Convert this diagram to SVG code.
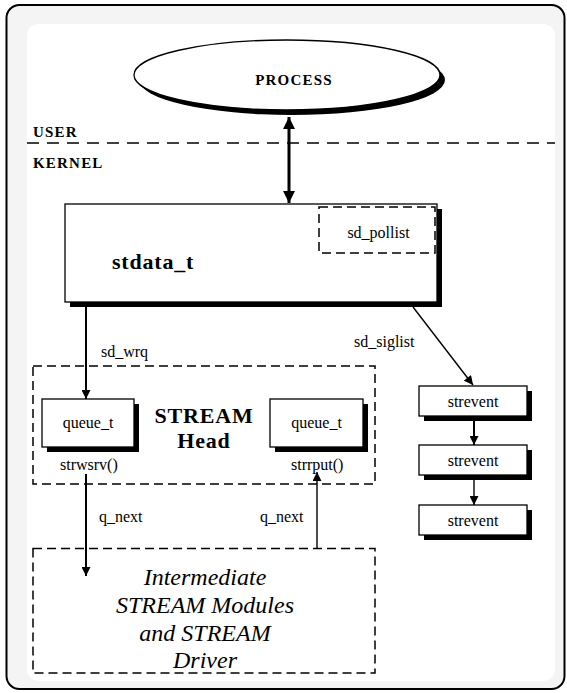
<svg xmlns="http://www.w3.org/2000/svg" width="567" height="693" viewBox="0 0 567 693">
<style>
text{font-family:"Liberation Serif","Times New Roman",serif;fill:#000}
.b{font-weight:bold}
.lbl{font-size:16px}
.cap{font-size:15px;font-weight:bold;letter-spacing:1.2px}
.box{fill:#fff;stroke:#000;stroke-width:1.3}
.sh{fill:#000}
.dash{fill:none;stroke:#000;stroke-width:1.5;stroke-dasharray:9 5}
.ln{fill:none;stroke:#000}
.it{font-size:24px;font-style:italic}
</style>
<defs>
<marker id="ah" viewBox="0 0 10 10" refX="10" refY="5" markerWidth="10" markerHeight="9" markerUnits="userSpaceOnUse" orient="auto"><path d="M0,0 L10,5 L0,10 z" fill="#000"/></marker>
<marker id="ahb" viewBox="0 0 10 10" refX="10" refY="5" markerWidth="15" markerHeight="12" markerUnits="userSpaceOnUse" orient="auto-start-reverse"><path d="M0,0 L10,5 L0,10 z" fill="#000"/></marker>
</defs>
<rect x="6.5" y="5" width="558" height="684" rx="13" fill="#f4f4f4" stroke="#000" stroke-width="2"/>
<rect x="27" y="24" width="528" height="657" rx="12" fill="#fff"/>
<g id="user-kernel">
<line x1="27" y1="143" x2="555" y2="143" stroke="#000" stroke-width="1.3" stroke-dasharray="12 8"/>
<text class="cap" x="33" y="137">USER</text>
<text class="cap" x="33" y="168">KERNEL</text>
</g>
<g id="process">
<ellipse cx="292" cy="80" rx="153" ry="35" class="sh"/>
<ellipse cx="287" cy="75" rx="153" ry="35" class="box"/>
<text class="cap" x="294" y="85" text-anchor="middle">PROCESS</text>
</g>
<g id="stdata_t">
<rect x="70" y="209" width="372" height="98" class="sh"/>
<rect x="65" y="204" width="372" height="98" class="box"/>
<text class="b" x="112" y="269" style="font-size:22px;letter-spacing:0.8px">stdata_t</text>
</g>
<g id="sd_pollist">
<rect x="319" y="207" width="116" height="46" class="dash"/>
<text class="lbl" x="378.5" y="238" text-anchor="middle">sd_pollist</text>
</g>
<g id="stream_head">
<rect x="33" y="366" width="342" height="118" class="dash"/>
<text class="b" x="204" y="423" text-anchor="middle" style="font-size:22px;letter-spacing:0.8px">STREAM</text>
<text class="b" x="204" y="448" text-anchor="middle" style="font-size:22px;letter-spacing:0.8px">Head</text>
<text class="lbl" x="60" y="470">strwsrv()</text>
<text class="lbl" x="291" y="470">strrput()</text>
</g>
<g id="queue_w">
<rect x="47" y="404" width="92" height="48" class="sh"/>
<rect x="42" y="399" width="92" height="48" class="box"/>
<text class="lbl" x="88" y="428" text-anchor="middle">queue_t</text>
</g>
<g id="queue_r">
<rect x="275" y="404" width="93" height="48" class="sh"/>
<rect x="270" y="399" width="93" height="48" class="box"/>
<text class="lbl" x="316.5" y="428" text-anchor="middle">queue_t</text>
</g>
<g id="modules">
<rect x="33" y="548.5" width="342" height="124.5" class="dash"/>
<text class="it" x="205" y="585" text-anchor="middle">Intermediate</text>
<text class="it" x="205" y="613" text-anchor="middle">STREAM Modules</text>
<text class="it" x="205" y="641" text-anchor="middle">and STREAM</text>
<text class="it" x="205" y="668" text-anchor="middle">Driver</text>
</g>
<g id="strevent1">
<rect x="424" y="391" width="108" height="30" class="sh"/>
<rect x="419" y="386" width="108" height="30" class="box"/>
<text class="lbl" x="473" y="407" text-anchor="middle">strevent</text>
</g>
<g id="strevent2">
<rect x="424" y="450" width="108" height="30" class="sh"/>
<rect x="419" y="445" width="108" height="30" class="box"/>
<text class="lbl" x="473" y="466" text-anchor="middle">strevent</text>
</g>
<g id="strevent3">
<rect x="424" y="510" width="108" height="30" class="sh"/>
<rect x="419" y="505" width="108" height="30" class="box"/>
<text class="lbl" x="473" y="526" text-anchor="middle">strevent</text>
</g>
<g id="connectors">
<line x1="289" y1="117" x2="289" y2="203" class="ln" stroke-width="3" marker-start="url(#ahb)" marker-end="url(#ahb)"/>
<line x1="86" y1="307" x2="86" y2="399" class="ln" stroke-width="2" marker-end="url(#ah)"/>
<text class="lbl" x="101" y="357">sd_wrq</text>
<line x1="413" y1="307" x2="473" y2="385" class="ln" stroke-width="1.4" marker-end="url(#ah)"/>
<text class="lbl" x="354" y="347">sd_siglist</text>
<line x1="474" y1="416" x2="474" y2="445" class="ln" stroke-width="2" marker-end="url(#ah)"/>
<line x1="474" y1="475" x2="474" y2="505" class="ln" stroke-width="1.4" marker-end="url(#ah)"/>
<line x1="86" y1="474" x2="86" y2="576" class="ln" stroke-width="2" marker-end="url(#ah)"/>
<text class="lbl" x="99" y="522">q_next</text>
<line x1="317" y1="548" x2="317" y2="472" class="ln" stroke-width="1.4" marker-end="url(#ah)"/>
<text class="lbl" x="260" y="522">q_next</text>
</g>
</svg>
